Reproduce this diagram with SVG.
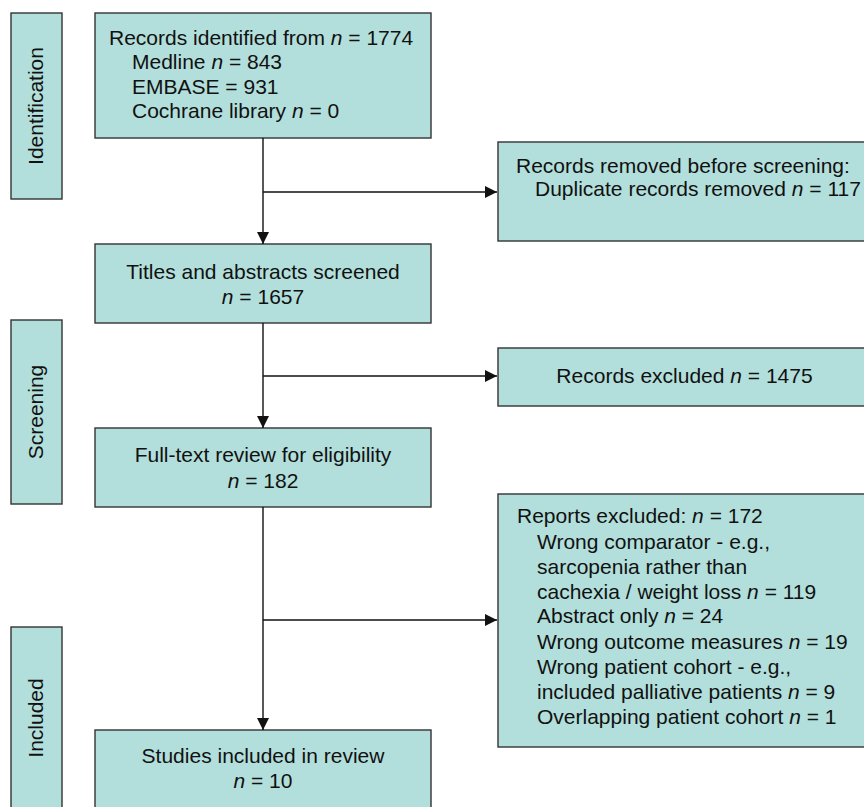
<svg xmlns="http://www.w3.org/2000/svg" width="864" height="807" viewBox="0 0 864 807">
<defs>
<style>
.box{fill:#b2dfdb;stroke:#333333;stroke-width:1.4}
.t{font-family:"Liberation Sans",Arial,sans-serif;font-size:21px;fill:#111111}
.c{text-anchor:middle}
.i{font-style:italic}
.ln{fill:none;stroke:#111111;stroke-width:1.4}
</style>
<marker id="ah" viewBox="0 0 12 12" refX="12" refY="6" markerWidth="12" markerHeight="12" markerUnits="userSpaceOnUse" orient="auto">
<path d="M0,0 L12,6 L0,12 Z" fill="#111111"/>
</marker>
</defs>
<rect width="864" height="807" fill="#ffffff"/>

<g id="phase-identification">
<rect class="box" x="11" y="13" width="51" height="186"/>
<text class="t c" transform="translate(43,106) rotate(-90)">Identification</text>
</g>
<g id="phase-screening">
<rect class="box" x="11" y="320" width="51" height="184"/>
<text class="t c" transform="translate(43,412) rotate(-90)">Screening</text>
</g>
<g id="phase-included">
<rect class="box" x="11" y="627" width="51" height="182"/>
<text class="t c" transform="translate(43,718) rotate(-90)">Included</text>
</g>

<g id="identified">
<rect class="box" x="95" y="13" width="336" height="125"/>
<text class="t" x="109" y="45">Records identified from <tspan class="i">n</tspan> = 1774</text>
<text class="t" x="132" y="69">Medline <tspan class="i">n</tspan> = 843</text>
<text class="t" x="132" y="94">EMBASE = 931</text>
<text class="t" x="132" y="118">Cochrane library <tspan class="i">n</tspan> = 0</text>
</g>

<g id="removed">
<rect class="box" x="498" y="142" width="380" height="99"/>
<text class="t" x="516" y="173">Records removed before screening:</text>
<text class="t" x="535" y="196">Duplicate records removed <tspan class="i">n</tspan> = 117</text>
</g>

<g id="screened">
<rect class="box" x="95" y="244" width="336" height="79"/>
<text class="t c" x="263" y="279">Titles and abstracts screened</text>
<text class="t c" x="263" y="304"><tspan class="i">n</tspan> = 1657</text>
</g>

<g id="excluded">
<rect class="box" x="498" y="348" width="373" height="58"/>
<text class="t c" x="684.5" y="383">Records excluded <tspan class="i">n</tspan> = 1475</text>
</g>

<g id="fulltext">
<rect class="box" x="95" y="428" width="336" height="79"/>
<text class="t c" x="263" y="462">Full-text review for eligibility</text>
<text class="t c" x="263" y="488"><tspan class="i">n</tspan> = 182</text>
</g>

<g id="reports-excluded">
<rect class="box" x="498" y="494" width="380" height="253"/>
<text class="t" x="517" y="523">Reports excluded: <tspan class="i">n</tspan> = 172</text>
<text class="t" x="537" y="549">Wrong comparator - e.g.,</text>
<text class="t" x="537" y="574">sarcopenia rather than</text>
<text class="t" x="537" y="599">cachexia / weight loss <tspan class="i">n</tspan> = 119</text>
<text class="t" x="537" y="623">Abstract only <tspan class="i">n</tspan> = 24</text>
<text class="t" x="537" y="649">Wrong outcome measures <tspan class="i">n</tspan> = 19</text>
<text class="t" x="537" y="674">Wrong patient cohort - e.g.,</text>
<text class="t" x="537" y="699">included palliative patients <tspan class="i">n</tspan> = 9</text>
<text class="t" x="537" y="724">Overlapping patient cohort <tspan class="i">n</tspan> = 1</text>
</g>

<g id="included">
<rect class="box" x="95" y="730" width="336" height="82"/>
<text class="t c" x="263" y="763">Studies included in review</text>
<text class="t c" x="263" y="788"><tspan class="i">n</tspan> = 10</text>
</g>

<g id="connectors">
<line class="ln" x1="263" y1="138" x2="263" y2="244" marker-end="url(#ah)"/>
<line class="ln" x1="263" y1="192" x2="497" y2="192" marker-end="url(#ah)"/>
<line class="ln" x1="263" y1="323" x2="263" y2="428" marker-end="url(#ah)"/>
<line class="ln" x1="263" y1="376" x2="497" y2="376" marker-end="url(#ah)"/>
<line class="ln" x1="263" y1="507" x2="263" y2="730" marker-end="url(#ah)"/>
<line class="ln" x1="263" y1="620" x2="497" y2="620" marker-end="url(#ah)"/>
</g>
</svg>
